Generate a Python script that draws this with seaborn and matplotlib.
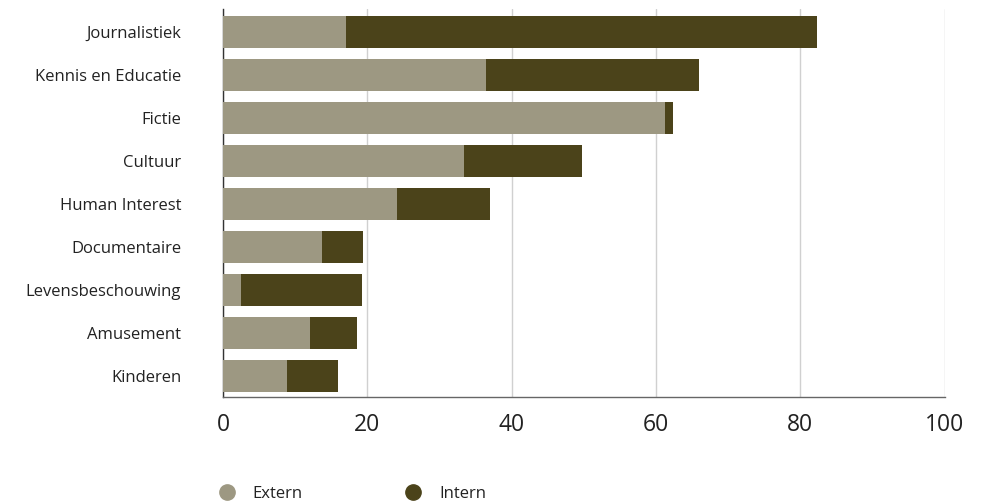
import matplotlib
matplotlib.use("Agg")
import matplotlib.pyplot as plt
from matplotlib.lines import Line2D
import pandas as pd
import seaborn as sns

# values
genres = ["Journalistiek", "Kennis en Educatie", "Fictie", "Cultuur", "Human Interest",
          "Documentaire", "Levensbeschouwing", "Amusement", "Kinderen"]
extern = [17.0, 36.4, 61.2, 33.4, 24.1, 13.7, 2.5, 12.0, 8.9]
intern = [65.3, 29.6, 1.2, 16.4, 12.9, 5.7, 16.8, 6.6, 7.0]

c_extern = "#9d9882"
c_intern = "#4b431a"

df = pd.DataFrame({"genre": genres, "Extern": extern, "Intern": intern})
df["totaal"] = df["Extern"] + df["Intern"]

sns.set_style("white")
plt.rcParams["font.family"] = ["Open Sans", "DejaVu Sans"]

fig = plt.figure(figsize=(9.84, 5.01), dpi=100)
ax = fig.add_axes([0.2266, 0.207, 0.7335, 0.775])

# stacked: total in intern colour, extern drawn over it
sns.barplot(data=df, x="totaal", y="genre", orient="h", color=c_intern,
            width=0.74, saturation=1, linewidth=0, ax=ax)
sns.barplot(data=df, x="Extern", y="genre", orient="h", color=c_extern,
            width=0.74, saturation=1, linewidth=0, ax=ax)

ax.set_xlim(0, 100)
ax.set_ylim(8.5, -0.53)
ax.set_xticks([0, 20, 40, 60, 80, 100])
ax.set_xlabel("")
ax.set_ylabel("")
ax.set_axisbelow(True)
ax.grid(axis="x", color="#d0d0d0", lw=1)
ax.grid(axis="y", visible=False)
ax.tick_params(axis="x", length=0, pad=11, labelsize=16.5, labelcolor="#222222")
ax.tick_params(axis="y", length=0, pad=30, labelsize=12, labelcolor="#222222")

for s in ["top", "right"]:
    ax.spines[s].set_visible(False)
ax.spines["left"].set_color("#333333")
ax.spines["left"].set_linewidth(1)
ax.spines["left"].set_zorder(0.6)
ax.spines["bottom"].set_color("#666666")
ax.spines["bottom"].set_linewidth(1)

handles = [Line2D([], [], marker="o", ls="", markersize=11, color=c_extern, label="Extern"),
           Line2D([], [], marker="o", ls="", markersize=11, color=c_intern, label="Intern")]
fig.legend(handles=handles, loc="center left", bbox_to_anchor=(219 / 984, 0.014),
           ncol=2, frameon=False, fontsize=12, handlelength=0.9, handletextpad=1.1,
           columnspacing=6.2, borderpad=0, borderaxespad=0, labelcolor="#222222")

fig.savefig("out.png", dpi=100)
